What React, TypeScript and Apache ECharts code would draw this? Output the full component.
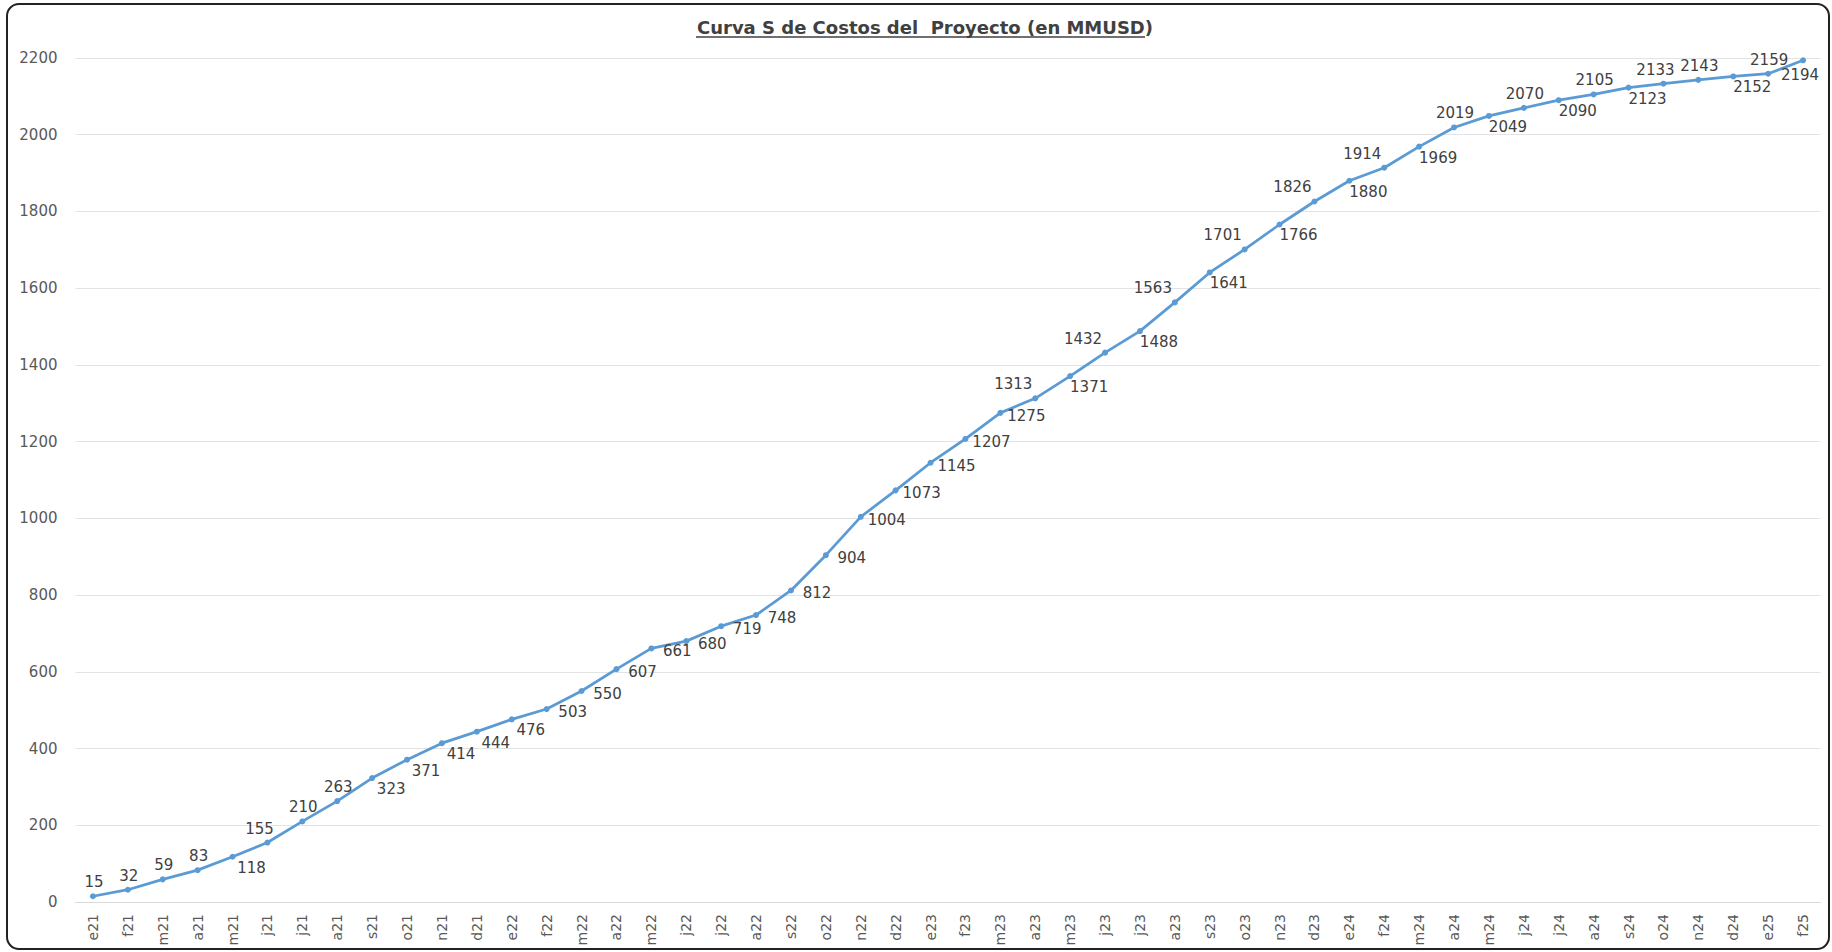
import React, { useEffect, useRef } from "react";
import * as echarts from "echarts";

const categories = [
  "e21","f21","m21","a21","m21","j21","j21","a21","s21","o21","n21","d21",
  "e22","f22","m22","a22","m22","j22","j22","a22","s22","o22","n22","d22",
  "e23","f23","m23","a23","m23","j23","j23","a23","s23","o23","n23","d23",
  "e24","f24","m24","a24","m24","j24","j24","a24","s24","o24","n24","d24",
  "e25","f25",
];

const costValues = [
  15, 32, 59, 83, 118, 155, 210, 263, 323, 371,
  414, 444, 476, 503, 550, 607, 661, 680, 719, 748,
  812, 904, 1004, 1073, 1145, 1207, 1275, 1313, 1371, 1432,
  1488, 1563, 1641, 1701, 1766, 1826, 1880, 1914, 1969, 2019,
  2049, 2070, 2090, 2105, 2123, 2133, 2143, 2152, 2159, 2194,
];

// label placement per point (style only):
// a = above, al = above slightly left, l = above-left, br = below-right, r = right, b = below
const labelSide = [
  "a","a","a","a","br","al","a","a","br","br",
  "br","br","br","r","r","r","r","r","r","r",
  "r","r","r","r","r","r","r","l","br","l",
  "br","l","br","l","br","l","br","l","br","a",
  "br","a","br","a","br","al","a","br","a","b",
];

const yTicks = { min: 0, max: 2200, interval: 200 };
const titleText = "Curva S de Costos del  Proyecto (en MMUSD)";

const labelOffsets: Record<string, number[]> = {
  a: [1, -14],
  al: [-8, -14],
  l: [-22, -14],
  br: [19, 11],
  r: [26, 3],
  b: [-3, 15],
};

export default function App() {
  const ref = useRef<HTMLDivElement>(null);
  useEffect(() => {
    if (!ref.current) return;
    const chart = echarts.init(ref.current, null, { renderer: "svg" });
    const font = "DejaVu Sans, Verdana, sans-serif";
    chart.setOption({
      animation: false,
      backgroundColor: "#ffffff",
      title: {
        text: titleText,
        left: 920,
        textAlign: "center",
        top: 13,
        textStyle: {
          fontFamily: font,
          fontSize: 18,
          fontWeight: "bold",
          color: "#404040",
        },
      },
      graphic: [
        {
          type: "rect",
          shape: { x: 7, y: 4, width: 1822, height: 945, r: 12 },
          style: { fill: "none", stroke: "#222222", lineWidth: 2 },
          silent: true,
        },
        {
          type: "line",
          shape: { x1: 696, y1: 37, x2: 1145, y2: 37 },
          style: { stroke: "#404040", lineWidth: 1.5 },
          silent: true,
        },
      ],
      grid: { left: 75.5, right: 11.5, top: 58, bottom: 50, containLabel: false },
      xAxis: {
        type: "category",
        data: categories,
        boundaryGap: true,
        axisLine: { show: true, lineStyle: { color: "#d9d9d9", width: 1 } },
        axisTick: { show: false },
        axisLabel: {
          rotate: 90,
          interval: 0,
          color: "#595959",
          fontSize: 14,
          fontFamily: font,
          margin: 12,
        },
      },
      yAxis: {
        type: "value",
        min: yTicks.min,
        max: yTicks.max,
        interval: yTicks.interval,
        axisLine: { show: false },
        axisTick: { show: false },
        splitLine: { lineStyle: { color: "#e3e3e3", width: 1 } },
        axisLabel: {
          color: "#595959",
          fontSize: 15,
          fontFamily: font,
          margin: 18,
          formatter: (v: number) => String(v),
        },
      },
      series: [
        {
          type: "line",
          data: costValues.map((v, i) => ({
            value: v,
            label: { position: "inside", offset: labelOffsets[labelSide[i]] },
          })),
          symbol: "circle",
          symbolSize: 6,
          lineStyle: { color: "#5B9BD5", width: 2.75 },
          itemStyle: { color: "#5B9BD5" },
          label: {
            show: true,
            color: "#404040",
            fontSize: 15,
            fontFamily: font,
          },
        },
      ],
    });
    return () => chart.dispose();
  }, []);
  return (
    <div
      ref={ref}
      style={{ position: "fixed", left: 0, top: 0, width: 1832, height: 952, background: "#fff" }}
    />
  );
}
